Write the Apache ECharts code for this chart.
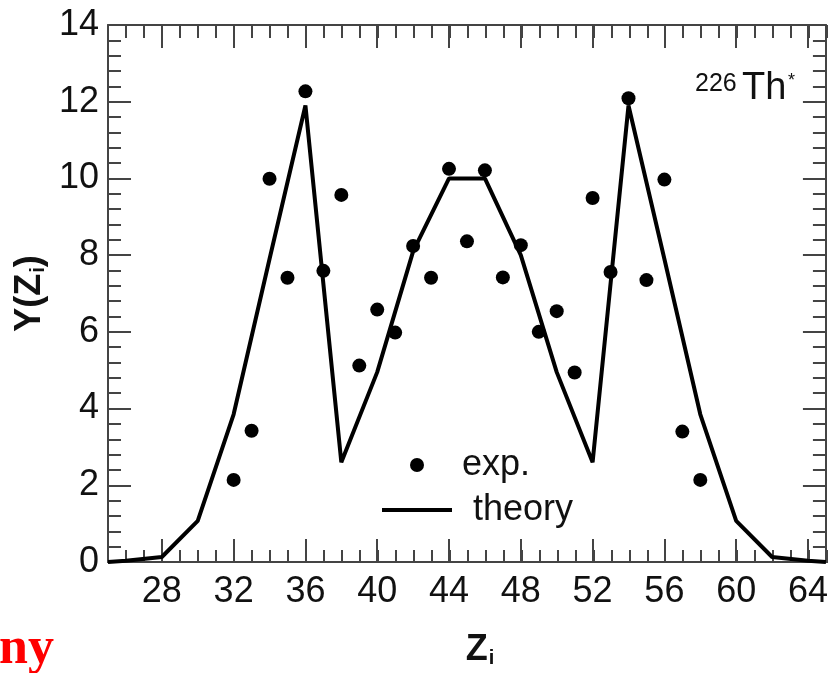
<!DOCTYPE html>
<html>
<head>
<meta charset="utf-8">
<script src="https://cdn.jsdelivr.net/npm/echarts@6/dist/echarts.min.js"></script>
<style>
html,body{margin:0;padding:0;background:#fff;}
#c{width:831px;height:673px;}
</style>
</head>
<body>
<div id="c"></div>
<script>
// ---- data ----
var theoryZ = [25, 26, 28, 30, 32, 34, 36, 38, 40, 42, 44, 46, 48, 50, 52, 54, 56, 58, 60, 62, 64, 65];
var theoryY = [0, 0.03, 0.13, 1.07, 3.85, 7.9, 11.9, 2.6, 4.95, 8.1, 10.0, 10.0, 8.0, 4.95, 2.6, 11.9, 7.9, 3.85, 1.07, 0.13, 0.03, 0];
var expZ = [32, 33, 34, 35, 36, 37, 38, 39, 40, 41, 42, 43, 44, 45, 46, 47, 48, 49, 50, 51, 52, 53, 54, 55, 56, 57, 58];
var expY = [2.14, 3.42, 9.99, 7.41, 12.27, 7.59, 9.57, 5.12, 6.58, 5.98, 8.24, 7.41, 10.25, 8.36, 10.21, 7.42, 8.26, 6.0, 6.54, 4.94, 9.49, 7.56, 12.09, 7.35, 9.97, 3.40, 2.14];
var xTickLabels = [28, 32, 36, 40, 44, 48, 52, 56, 60, 64];
var yTickLabels = [0, 2, 4, 6, 8, 10, 12, 14];
var seriesNames = ['exp.', 'theory'];

var FONT = "'Liberation Sans', Arial, sans-serif";
var AX = '#444';

var theoryData = theoryZ.map(function (z, i) { return [z, theoryY[i]]; });
var expData = expZ.map(function (z, i) { return [z, expY[i]]; });

var chart = echarts.init(document.getElementById('c'), null, {renderer: 'canvas'});

var gridBox = {left: 108, right: 4, top: 25, bottom: 110};

function majorX(pos, showLabel, name) {
  return {
    type: 'value', gridIndex: 0, position: pos, min: 25, max: 65,
    axisLine: {show: true, onZero: false, lineStyle: {color: AX, width: 2}},
    axisTick: {show: true, inside: true, length: 23, customValues: xTickLabels, lineStyle: {color: AX, width: 2}},
    axisLabel: {show: showLabel, customValues: xTickLabels, fontSize: 36, color: '#111', fontFamily: FONT, margin: 12},
    splitLine: {show: false},
    name: name || '',
    nameLocation: 'middle',
    nameGap: 70,
    nameTextStyle: {
      fontFamily: FONT, color: '#111',
      rich: {
        n: {fontSize: 36, fontWeight: 'bold', fontFamily: FONT, color: '#111', padding: [0, 0, 0, 26]},
        s: {fontSize: 20, fontWeight: 'bold', fontFamily: FONT, color: '#111', verticalAlign: 'bottom', padding: [14, 0, 0, 1]}
      }
    }
  };
}
function minorX(pos) {
  return {
    type: 'value', gridIndex: 1, position: pos, min: 25, max: 65, interval: 1,
    axisLine: {show: false},
    axisTick: {show: true, inside: true, length: 13, lineStyle: {color: AX, width: 2}},
    axisLabel: {show: false},
    splitLine: {show: false}
  };
}
function majorY(pos, showLabel, name) {
  return {
    type: 'value', gridIndex: 0, position: pos, min: 0, max: 14, interval: 2,
    axisLine: {show: true, onZero: false, lineStyle: {color: AX, width: 2}},
    axisTick: {show: true, inside: true, length: 23, lineStyle: {color: AX, width: 2}},
    minorTick: {show: true, splitNumber: 5, length: 13, lineStyle: {color: AX, width: 2}},
    axisLabel: {show: showLabel, fontSize: 36, color: '#111', fontFamily: FONT, margin: 9},
    splitLine: {show: false},
    minorSplitLine: {show: false},
    name: name || '',
    nameLocation: 'middle',
    nameRotate: 90,
    nameGap: 58,
    nameTextStyle: {
      fontFamily: FONT, color: '#111',
      rich: {
        n: {fontSize: 36, fontWeight: 'bold', fontFamily: FONT, color: '#111'},
        s: {fontSize: 20, fontWeight: 'bold', fontFamily: FONT, color: '#111', verticalAlign: 'bottom', padding: [14, 0, 0, 1]}
      }
    }
  };
}

var option = {
  backgroundColor: '#fff',
  animation: false,
  grid: [
    Object.assign({}, gridBox),
    Object.assign({}, gridBox)
  ],
  xAxis: [
    majorX('bottom', true, '{n|Z}{s|i}'),
    majorX('top', false),
    minorX('bottom'),
    minorX('top')
  ],
  yAxis: [
    majorY('left', true, '{n|Y(Z}{s|i}{n|)}'),
    majorY('right', false),
    {type: 'value', gridIndex: 1, min: 0, max: 14, show: false}
  ],
  legend: [
    {
      data: [{name: seriesNames[0], icon: 'circle'}],
      left: 410, top: 447, padding: 0,
      itemWidth: 14, itemHeight: 14,
      selectedMode: false,
      itemStyle: {opacity: 1, color: '#000'},
      textStyle: {fontSize: 36, color: '#111', fontFamily: FONT, padding: [0, 0, 0, 33]}
    },
    {
      data: [{name: seriesNames[1], icon: 'rect'}],
      left: 382, top: 492, padding: 0,
      itemWidth: 70, itemHeight: 4,
      selectedMode: false,
      textStyle: {fontSize: 36, color: '#111', fontFamily: FONT, padding: [0, 0, 0, 16]}
    }
  ],
  graphic: [
    {type: 'text', left: 695, top: 72, style: {text: '226', font: "25px 'Liberation Sans', Arial, sans-serif", fill: '#111'}},
    {type: 'text', left: 742, top: 70, style: {text: 'Th', font: "38px 'Liberation Sans', Arial, sans-serif", fill: '#111'}},
    {type: 'text', left: 788, top: 72, style: {text: '*', font: "18px 'Liberation Sans', Arial, sans-serif", fill: '#111'}},
    {type: 'text', left: -1, top: 624, style: {text: 'ny', font: "bold 52px 'Liberation Serif', 'Times New Roman', serif", fill: '#ff0000'}}
  ],
  series: [
    {
      name: seriesNames[1], type: 'line', xAxisIndex: 0, yAxisIndex: 0,
      data: theoryData, showSymbol: false, symbol: 'none',
      lineStyle: {color: '#000', width: 4}, itemStyle: {color: '#000'},
      z: 2
    },
    {
      name: seriesNames[0], type: 'scatter', xAxisIndex: 0, yAxisIndex: 0,
      data: expData, symbol: 'circle', symbolSize: 14,
      itemStyle: {color: '#000', opacity: 1},
      z: 3
    }
  ]
};
chart.setOption(option);
</script>
</body>
</html>
